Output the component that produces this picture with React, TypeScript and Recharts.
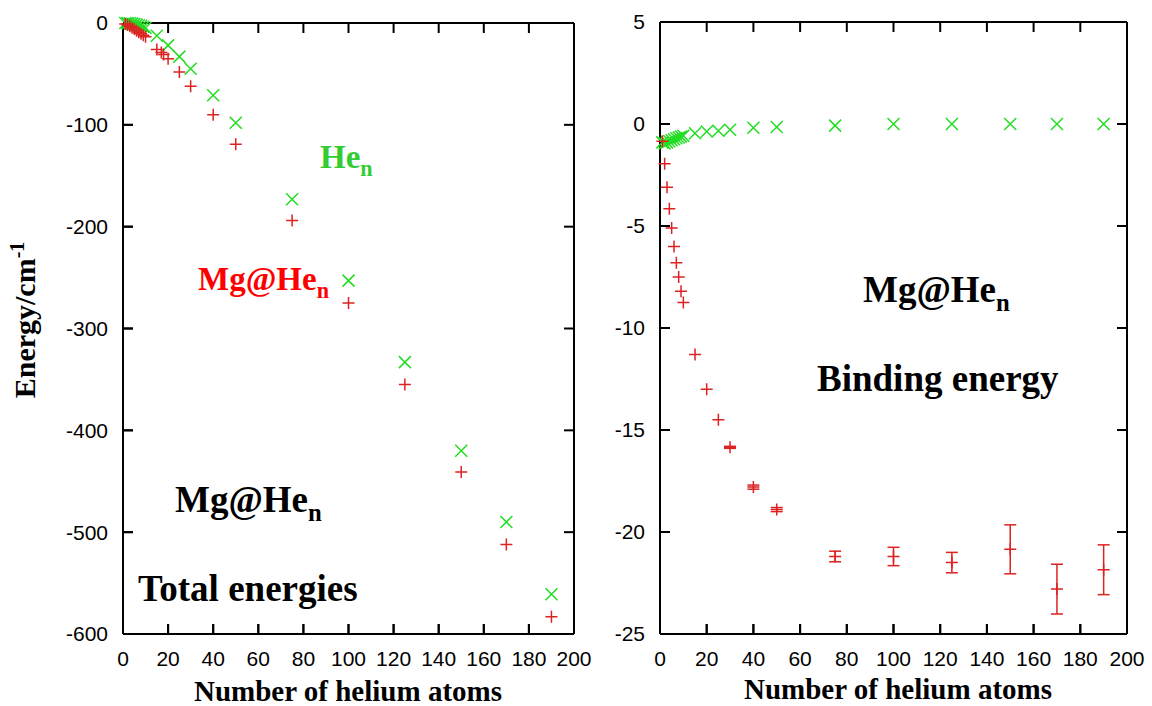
import React from 'react';
import { ScatterChart, Scatter, XAxis, YAxis, ErrorBar, ReferenceLine } from 'recharts';

// x ticks shared by both panels
const xTicks = [0, 20, 40, 60, 80, 100, 120, 140, 160, 180, 200];
const totalTicks = [0, -100, -200, -300, -400, -500, -600];
const bindTicks = [5, 0, -5, -10, -15, -20, -25];

// left panel: total energies
const heN = [1, 2, 3, 4, 5, 6, 7, 8, 9, 10, 15, 20, 25, 30, 40, 50, 75, 100, 125, 150, 170, 190];
const heTotal = [0, -0.1, -0.3, -0.6, -1.0, -1.6, -2.3, -3.0, -3.8, -4.7, -12.5, -22, -33, -45, -71, -98, -173, -253, -333, -420, -490, -561];
const mgN = [1, 2, 3, 4, 5, 6, 7, 8, 9, 10, 15, 17, 18, 20, 25, 30, 40, 50, 75, 100, 125, 150, 170, 190];
const mgTotal = [-0.9, -2.0, -3.3, -4.6, -6.0, -7.5, -9.0, -10.5, -12, -13.5, -26, -29, -31, -35, -48, -62, -90, -119, -194, -275, -355, -441, -512, -583];

// right panel: binding energies
const heBindN = [1, 2, 3, 4, 5, 6, 7, 8, 9, 10, 15, 20, 25, 30, 40, 50, 75, 100, 125, 150, 170, 190];
const heBind = [-0.9, -0.95, -0.9, -0.85, -0.8, -0.75, -0.7, -0.66, -0.62, -0.58, -0.45, -0.37, -0.33, -0.28, -0.18, -0.15, -0.08, 0, 0, 0, 0, 0];
const mgBindN = [1, 2, 3, 4, 5, 6, 7, 8, 9, 10, 15, 20, 25, 30, 40, 50, 75, 100, 125, 150, 170, 190];
const mgBind = [-0.85, -1.95, -3.1, -4.15, -5.1, -6.0, -6.8, -7.5, -8.2, -8.75, -11.3, -13.0, -14.5, -15.85, -17.8, -18.9, -21.2, -21.2, -21.5, -20.85, -22.8, -21.85];
const mgBindErr = [0, 0, 0, 0, 0, 0, 0, 0, 0, 0, 0, 0, 0, 0.05, 0.1, 0.1, 0.26, 0.45, 0.5, 1.2, 1.22, 1.22];

const heTotalData = heN.map((n, i) => ({ n, e: heTotal[i] }));
const mgTotalData = mgN.map((n, i) => ({ n, e: mgTotal[i] }));
const heBindData = heBindN.map((n, i) => ({ n, e: heBind[i] }));
const mgBindData = mgBindN.map((n, i) => ({ n, e: mgBind[i], err: mgBindErr[i] }));

const RED = '#dd2222';
const GREEN = '#22dd22';
const TICK_LEN = 10;
const tickFont = { fontFamily: '"Liberation Sans", Arial, sans-serif', fontSize: 21, fill: '#000' };
const black = { stroke: '#000', strokeWidth: 2 };

const plus = (props: any) => {
  const { cx, cy } = props;
  return <path d={`M${cx - 6},${cy}H${cx + 6}M${cx},${cy - 6}V${cy + 6}`} stroke={RED} strokeWidth={1.5} fill="none" />;
};
const cross = (props: any) => {
  const { cx, cy } = props;
  return <path d={`M${cx - 6},${cy - 6}L${cx + 6},${cy + 6}M${cx - 6},${cy + 6}L${cx + 6},${cy - 6}`} stroke={GREEN} strokeWidth={1.5} fill="none" />;
};

function Panel(props: {
  width: number;
  margin: { top: number; right: number; bottom: number; left: number };
  plotW: number;
  plotH: number;
  yDomain: [number, number];
  yTicks: number[];
  children: React.ReactNode;
}) {
  const { width, margin, plotW, plotH, yDomain, yTicks, children } = props;
  const [yMin, yMax] = yDomain;
  // tick length expressed in data units so the marks go through the chart's own scales
  const lx = (200 * TICK_LEN) / plotW;
  const ly = ((yMax - yMin) * TICK_LEN) / plotH;
  return (
    <ScatterChart width={width} height={706} margin={margin}>
      <XAxis dataKey="n" type="number" domain={[0, 200]} ticks={xTicks} interval={0}
        height={30} stroke="#000" tickSize={-TICK_LEN} tickMargin={27}
        tickLine={black} axisLine={black} tick={tickFont} />
      <YAxis dataKey="e" type="number" domain={yDomain} ticks={yTicks} interval={0}
        width={60} stroke="#000" tickSize={-TICK_LEN} tickMargin={25}
        tickLine={black} axisLine={black} tick={tickFont} />
      {/* closed frame: top and right edges */}
      <ReferenceLine y={yMax} {...black} ifOverflow="visible" />
      <ReferenceLine x={200} {...black} ifOverflow="visible" />
      {/* inward tick marks on all four sides */}
      {xTicks.map((n) => (
        <ReferenceLine key={`b${n}`} segment={[{ x: n, y: yMin }, { x: n, y: yMin + ly }]} {...black} ifOverflow="visible" />
      ))}
      {xTicks.map((n) => (
        <ReferenceLine key={`t${n}`} segment={[{ x: n, y: yMax }, { x: n, y: yMax - ly }]} {...black} ifOverflow="visible" />
      ))}
      {yTicks.map((e) => (
        <ReferenceLine key={`l${e}`} segment={[{ x: 0, y: e }, { x: lx, y: e }]} {...black} ifOverflow="visible" />
      ))}
      {yTicks.map((e) => (
        <ReferenceLine key={`r${e}`} segment={[{ x: 200, y: e }, { x: 200 - lx, y: e }]} {...black} ifOverflow="visible" />
      ))}
      {children}
    </ScatterChart>
  );
}

const serif = '"Liberation Serif", "Times New Roman", serif';

function Annot(p: { x: number; y: number; color: string; main: string; sub?: string; size?: number }) {
  const size = p.size ?? 33;
  return (
    <text x={p.x} y={p.y} fill={p.color} fontFamily={serif} fontWeight="bold" fontSize={size}>
      {p.main}
      {p.sub && <tspan dy={size * 0.25} fontSize={size * 0.67}>{p.sub}</tspan>}
    </text>
  );
}

export default function App() {
  return (
    <div style={{ position: 'absolute', left: 0, top: 0, width: 1152, height: 706, background: '#fff', overflow: 'hidden' }}>
      <div style={{ position: 'absolute', left: 0, top: 0 }}>
        <Panel width={600} margin={{ top: 23, right: 26, bottom: 42, left: 63 }} plotW={451} plotH={611}
          yDomain={[-600, 0]} yTicks={totalTicks}>
          <Scatter data={heTotalData} shape={cross} isAnimationActive={false} />
          <Scatter data={mgTotalData} shape={plus} isAnimationActive={false} />
        </Panel>
      </div>
      <div style={{ position: 'absolute', left: 600, top: 0 }}>
        <Panel width={552} margin={{ top: 22, right: 25, bottom: 42, left: 0 }} plotW={467} plotH={612}
          yDomain={[-25, 5]} yTicks={bindTicks}>
          <Scatter data={heBindData} shape={cross} isAnimationActive={false} />
          <Scatter data={mgBindData} shape={plus} isAnimationActive={false}>
            <ErrorBar dataKey="err" direction="y" width={6} stroke={RED} strokeWidth={1.5} isAnimationActive={false} />
          </Scatter>
        </Panel>
      </div>
      <svg width={1152} height={706} style={{ position: 'absolute', left: 0, top: 0, pointerEvents: 'none' }}>
        <Annot x={320} y={168} color="#33cc33" main="He" sub="n" />
        <Annot x={198} y={290} color="#ff0000" main="Mg@He" sub="n" />
        <Annot x={175} y={512} color="#000" main="Mg@He" sub="n" size={37} />
        <Annot x={138} y={601} color="#000" main="Total energies" size={37} />
        <Annot x={863} y={302} color="#000" main="Mg@He" sub="n" size={37} />
        <Annot x={817} y={391} color="#000" main="Binding energy" size={37} />
        <text x={348} y={701} textAnchor="middle" fontFamily={serif} fontWeight="bold" fontSize={29}>Number of helium atoms</text>
        <text x={898} y={699} textAnchor="middle" fontFamily={serif} fontWeight="bold" fontSize={29}>Number of helium atoms</text>
        <text transform="translate(35,320) rotate(-90)" textAnchor="middle" fontFamily={serif} fontWeight="bold" fontSize={30}>
          Energy/cm<tspan dy={-11} fontSize={20}>-1</tspan>
        </text>
      </svg>
    </div>
  );
}
